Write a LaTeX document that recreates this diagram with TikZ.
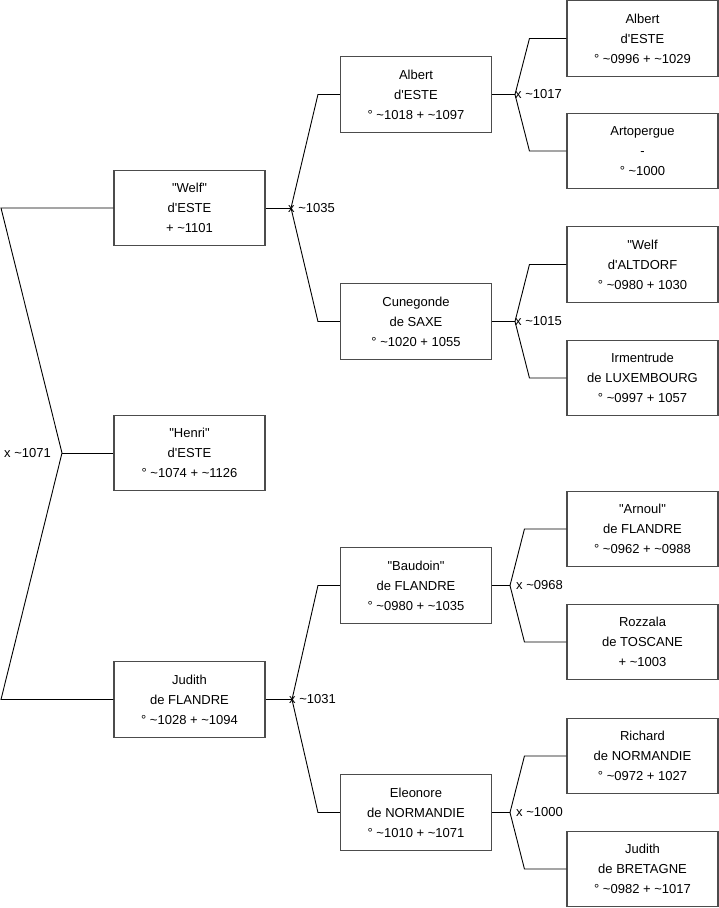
\documentclass[tikz,border=0pt]{standalone}
\usepackage{fontspec}
\setmainfont{Liberation Sans}
\newcommand\myq{\textquotedbl}
\newcommand\mya{\textquotesingle}
\newcommand\myt{\textasciitilde}
\begin{document}
\begin{tikzpicture}[x=1pt,y=-1pt,
  person/.style={draw=black!70,line width=1.1pt,fill=white,minimum width=151pt,minimum height=75.5pt,
    align=center,inner sep=0pt,font=\fontsize{13}{20}\selectfont},
  link/.style={draw=black,line width=0.9pt},
  marr/.style={inner sep=0pt,font=\fontsize{13}{16}\selectfont}]
\useasboundingbox (0,0) rectangle (719,908);
% level 1
\node[person] (welf) at (189.5,208) {\myq Welf\myq\\d\mya ESTE\\+ \myt 1101};
\node[person] (henri) at (189.5,453) {\myq Henri\myq\\d\mya ESTE\\° \myt 1074 + \myt 1126};
\node[person] (judith) at (189.5,699.5) {Judith\\de FLANDRE\\° \myt 1028 + \myt 1094};
% level 2
\node[person] (albert) at (416,94.5) {Albert\\d\mya ESTE\\° \myt 1018 + \myt 1097};
\node[person] (cunegonde) at (416,321.5) {Cunegonde\\de SAXE\\° \myt 1020 + 1055};
\node[person] (baudoin) at (416,585.5) {\myq Baudoin\myq\\de FLANDRE\\° \myt 0980 + \myt 1035};
\node[person] (eleonore) at (416,812.5) {Eleonore\\de NORMANDIE\\° \myt 1010 + \myt 1071};
% level 3
\node[person] (albertb) at (642.5,38.5) {Albert\\d\mya ESTE\\° \myt 0996 + \myt 1029};
\node[person] (arto) at (642.5,151) {Artopergue\\-\\° \myt 1000};
\node[person] (welfb) at (642.5,264.5) {\myq Welf\\d\mya ALTDORF\\° \myt 0980 + 1030};
\node[person] (irmen) at (642.5,378) {Irmentrude\\de LUXEMBOURG\\° \myt 0997 + 1057};
\node[person] (arnoul) at (642.5,529) {\myq Arnoul\myq\\de FLANDRE\\° \myt 0962 + \myt 0988};
\node[person] (rozzala) at (642.5,642) {Rozzala\\de TOSCANE\\+ \myt 1003};
\node[person] (richard) at (642.5,756) {Richard\\de NORMANDIE\\° \myt 0972 + 1027};
\node[person] (judithb) at (642.5,869) {Judith\\de BRETAGNE\\° \myt 0982 + \myt 1017};
% junctions
\coordinate (jH) at (62,453);
\coordinate (cT) at (1,208);
\coordinate (cB) at (1,699.5);
\coordinate (jW) at (291,208);
\coordinate (jJ) at (292,699.5);
\coordinate (jA) at (515,94.5);
\coordinate (jC) at (515,321.5);
\coordinate (jB) at (510,585.5);
\coordinate (jE) at (510,812.5);
% connectors level 1
\draw[link] (welf.west) -- (cT) -- (jH) -- (cB) -- (judith.west);
\draw[link] (jH) -- (henri.west);
% level 2
\draw[link] (welf.east) -- (jW);
\draw[link] (albert.west) -- ++(-22,0) -- (jW) -- ([xshift=-22pt]cunegonde.west) -- (cunegonde.west);
\draw[link] (judith.east) -- (jJ);
\draw[link] (baudoin.west) -- ++(-22,0) -- (jJ) -- ([xshift=-22pt]eleonore.west) -- (eleonore.west);
% level 3
\draw[link] (albert.east) -- (jA);
\draw[link] (albertb.west) -- ++(-37,0) -- (jA) -- ([xshift=-37pt]arto.west) -- (arto.west);
\draw[link] (cunegonde.east) -- (jC);
\draw[link] (welfb.west) -- ++(-37,0) -- (jC) -- ([xshift=-37pt]irmen.west) -- (irmen.west);
\draw[link] (baudoin.east) -- (jB);
\draw[link] (arnoul.west) -- ++(-42,0) -- (jB) -- ([xshift=-42pt]rozzala.west) -- (rozzala.west);
\draw[link] (eleonore.east) -- (jE);
\draw[link] (richard.west) -- ++(-42,0) -- (jE) -- ([xshift=-42pt]judithb.west) -- (judithb.west);
% marriage labels
\node[marr,anchor=base east] (mH) at (51,457) {x \myt 1071};
\node[marr,anchor=base west] (mW) at (288,212) {x \myt 1035};
\node[marr,anchor=base west] (mJ) at (289,703.5) {x \myt 1031};
\node[marr,anchor=base west] (mA) at (515,98.5) {x \myt 1017};
\node[marr,anchor=base west] (mC) at (515,325.5) {x \myt 1015};
\node[marr,anchor=base west] (mB) at (516,589.5) {x \myt 0968};
\node[marr,anchor=base west] (mE) at (516,816.5) {x \myt 1000};
\end{tikzpicture}
\end{document}
